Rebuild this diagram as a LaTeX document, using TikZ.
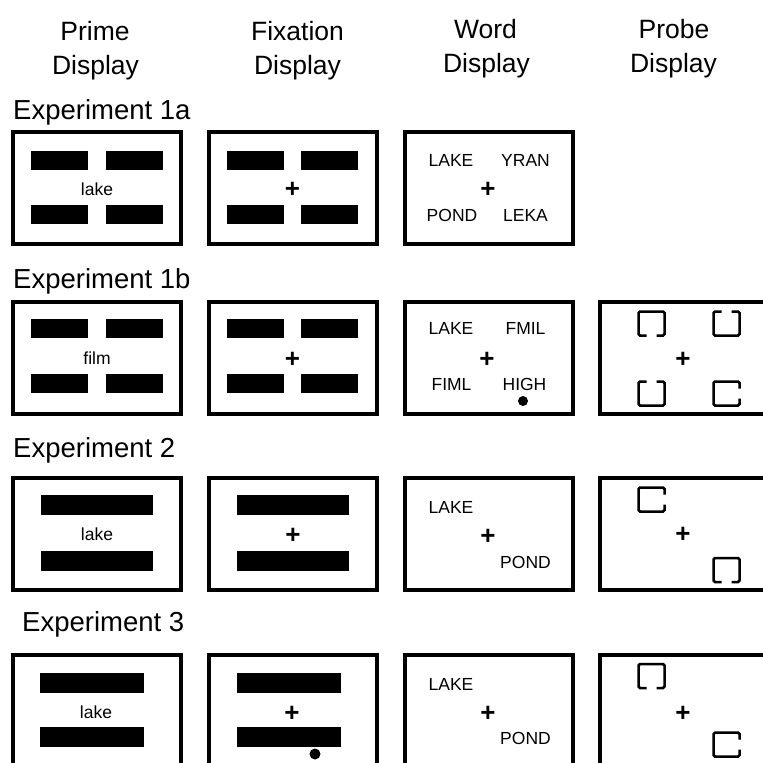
\documentclass[tikz,border=0pt]{standalone}
\usepackage{fontspec}
\setmainfont{Liberation Sans}
\begin{document}
\begin{tikzpicture}[x=1pt,y=-1pt,
  hdr/.style={font=\fontsize{26.5}{30}\selectfont, anchor=base, inner sep=0pt},
  explbl/.style={font=\fontsize{27.5}{30}\selectfont, anchor=base west, inner sep=0pt},
  small/.style={font=\fontsize{17.5}{20}\selectfont, inner sep=0pt},
  plus/.style={font=\fontsize{26}{30}\selectfont\bfseries, inner sep=0pt},
  disp/.style={draw, line width=4pt, minimum width=168pt, minimum height=112pt, inner sep=0pt},
  bar/.style={fill=black, inner sep=0pt, minimum width=57pt, minimum height=19pt},
  longbar/.style={fill=black, inner sep=0pt, minimum width=112pt, minimum height=20pt},
  midbar/.style={fill=black, inner sep=0pt, minimum width=104pt, minimum height=20pt},
  dotmark/.style={circle, fill=black, inner sep=0pt, minimum size=10pt},
  probeln/.style={line width=2.5pt, rounded corners=1.5pt},
  sqB/.pic={\draw[probeln] (-5,12) -- (-13,12) -- (-13,-12) -- (13,-12) -- (13,12) -- (5,12);},
  sqT/.pic={\draw[probeln] (-5,-12) -- (-13,-12) -- (-13,12) -- (13,12) -- (13,-12) -- (5,-12);},
  sqR/.pic={\draw[probeln] (13,-5) -- (13,-12) -- (-13,-12) -- (-13,12) -- (13,12) -- (13,5);}
]
\useasboundingbox (0,0) rectangle (763,763);
\fill[white] (0,0) rectangle (763,763);
\clip (0,0) rectangle (763,763);

% headers
\node[hdr] (h1a) at (95,40) {Prime};
\node[hdr] (h1b) at (95.5,74) {Display};
\node[hdr] (h2a) at (297.5,40) {Fixation};
\node[hdr] (h2b) at (297.5,74) {Display};
\node[hdr] (h3a) at (485.5,38) {Word};
\node[hdr] (h3b) at (486.5,72) {Display};
\node[hdr] (h4a) at (674,38) {Probe};
\node[hdr] (h4b) at (673.5,72) {Display};

% experiment labels
\node[explbl] (e1) at (13,119) {Experiment 1a};
\node[explbl] (e2) at (13,288) {Experiment 1b};
\node[explbl] (e3) at (13,457) {Experiment 2};
\node[explbl] (e4) at (22,631) {Experiment 3};

% ---------- Row 1 ----------
\node[disp] (p1) at (97,187.5) {};
\node[bar] (p1a) at (59.5,160) {};
\node[bar] (p1b) at (134,160) {};
\node[bar] (p1c) at (59.5,214) {};
\node[bar] (p1d) at (134,214) {};
\node[small] (p1w) at (97,189) {lake};

\node[disp] (f1) at (292.5,187.5) {};
\node[bar] (f1a) at (255,160) {};
\node[bar] (f1b) at (329.5,160) {};
\node[bar] (f1c) at (255,214) {};
\node[bar] (f1d) at (329.5,214) {};
\node[plus] (f1p) at (292.5,189.5) {+};

\node[disp] (w1) at (488.5,187.5) {};
\node[small] (w1a) at (451,160) {LAKE};
\node[small] (w1b) at (525.5,160) {YRAN};
\node[plus] (w1p) at (488,189.5) {+};
\node[small] (w1c) at (452,215) {POND};
\node[small] (w1d) at (525.5,215) {LEKA};

% ---------- Row 2 ----------
\node[disp] (p2) at (97,357.5) {};
\node[bar] (p2a) at (59.5,328.5) {};
\node[bar] (p2b) at (134,328.5) {};
\node[bar] (p2c) at (59.5,383.5) {};
\node[bar] (p2d) at (134,383.5) {};
\node[small] (p2w) at (97,358) {film};

\node[disp] (f2) at (292.5,357.5) {};
\node[bar] (f2a) at (255,328.5) {};
\node[bar] (f2b) at (329.5,328.5) {};
\node[bar] (f2c) at (255,383.5) {};
\node[bar] (f2d) at (329.5,383.5) {};
\node[plus] (f2p) at (292.5,360) {+};

\node[disp] (w2) at (488.5,357.5) {};
\node[small] (w2a) at (451,328) {LAKE};
\node[small] (w2b) at (525.5,328) {FMIL};
\node[plus] (w2p) at (487,359.5) {+};
\node[small] (w2c) at (451.5,384) {FIML};
\node[small] (w2d) at (524.5,384) {HIGH};
\node[dotmark] (w2dot) at (523,401) {};

\node[disp] (q2) at (684,357.5) {};
\pic at (651.5,323.5) {sqB};
\pic at (726.5,323.5) {sqT};
\pic at (651.5,393.5) {sqT};
\pic at (726.5,393.5) {sqR};
\node[plus] (q2p) at (683,359.5) {+};

% ---------- Row 3 ----------
\node[disp] (p3) at (97,533.5) {};
\node[longbar] (p3a) at (97,505) {};
\node[longbar] (p3b) at (97,560.5) {};
\node[small] (p3w) at (97,534) {lake};

\node[disp] (f3) at (292.5,533.5) {};
\node[longbar] (f3a) at (293,505) {};
\node[longbar] (f3b) at (293,560.5) {};
\node[plus] (f3p) at (293,535.5) {+};

\node[disp] (w3) at (488.5,533.5) {};
\node[small] (w3a) at (451,507) {LAKE};
\node[plus] (w3p) at (488,536.5) {+};
\node[small] (w3b) at (525.5,562) {POND};

\node[disp] (q3) at (684,533.5) {};
\pic at (651.5,499.5) {sqR};
\pic at (726.5,570) {sqB};
\node[plus] (q3p) at (683,534.5) {+};

% ---------- Row 4 ----------
\node[disp] (p4) at (97,711) {};
\node[midbar] (p4a) at (92,682.5) {};
\node[midbar] (p4b) at (92,737) {};
\node[small] (p4w) at (96,712) {lake};

\node[disp] (f4) at (292.5,711) {};
\node[midbar] (f4a) at (288.5,682.5) {};
\node[midbar] (f4b) at (288.5,737) {};
\node[plus] (f4p) at (292,713.5) {+};
\node[dotmark, minimum size=11pt] (f4dot) at (315,754) {};

\node[disp] (w4) at (488.5,711) {};
\node[small] (w4a) at (451,684) {LAKE};
\node[plus] (w4p) at (488,713.5) {+};
\node[small] (w4b) at (525.5,738) {POND};

\node[disp] (q4) at (684,711) {};
\pic at (651.5,676) {sqB};
\pic at (726.5,744.5) {sqR};
\node[plus] (q4p) at (683,713.5) {+};
\end{tikzpicture}
\end{document}
